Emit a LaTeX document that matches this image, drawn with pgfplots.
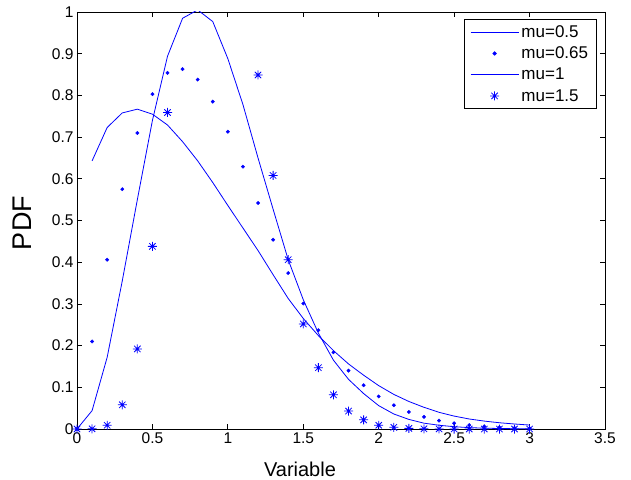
\documentclass[border=0pt]{standalone}
\usepackage{fontspec}
\setmainfont{Liberation Sans}
\usepackage{pgfplots}
\pgfplotsset{compat=1.18}
\pgfdeclareplotmark{mstar}{%
 \pgfpathmoveto{\pgfqpoint{-\pgfplotmarksize}{0pt}}\pgfpathlineto{\pgfqpoint{\pgfplotmarksize}{0pt}}%
 \pgfpathmoveto{\pgfqpoint{0pt}{-\pgfplotmarksize}}\pgfpathlineto{\pgfqpoint{0pt}{\pgfplotmarksize}}%
 \pgfpathmoveto{\pgfqpoint{-0.7071\pgfplotmarksize}{-0.7071\pgfplotmarksize}}\pgfpathlineto{\pgfqpoint{0.7071\pgfplotmarksize}{0.7071\pgfplotmarksize}}%
 \pgfpathmoveto{\pgfqpoint{-0.7071\pgfplotmarksize}{0.7071\pgfplotmarksize}}\pgfpathlineto{\pgfqpoint{0.7071\pgfplotmarksize}{-0.7071\pgfplotmarksize}}%
 \pgfusepathqstroke}
\definecolor{mblue}{RGB}{0,0,255}
\begin{document}
\begin{tikzpicture}
\path (-77pt,-48pt) rectangle (554pt,429pt);
\begin{axis}[
 scale only axis, width=528pt, height=417pt,
 at={(0pt,0pt)}, anchor=south west,
 xmin=0, xmax=3.5, ymin=0, ymax=1,
 xtick={0,0.5,1,1.5,2,2.5,3,3.5},
 ytick={0,0.1,0.2,0.3,0.4,0.5,0.6,0.7,0.8,0.9,1},
 tick align=inside, tick pos=both, major tick length=5pt,
 axis line style={line width=0.8pt},
 every tick/.style={black, line width=0.8pt},
 tick label style={font=\fontsize{15.5}{18}\selectfont},
 /pgf/number format/assume math mode=true,
 xlabel={Variable}, ylabel={PDF},
 xlabel style={font=\fontsize{20}{24}\selectfont, at={(axis description cs:0.4223,0)}, anchor=base, yshift=-47pt},
 ylabel style={font=\fontsize{27}{30}\selectfont, at={(axis description cs:-0.103,0.494)}, anchor=center},
 clip mode=individual,
 legend cell align=left,
 legend style={at={(1,1)}, anchor=north east, xshift=-8pt, yshift=-7pt, draw=black, line width=0.8pt,
   font=\fontsize{17}{19}\selectfont, row sep=4pt, inner xsep=6pt, inner ysep=4pt,
   nodes={inner xsep=2.5pt}},
 mylegend/.style={legend image code/.code={\draw[mark repeat=2,mark phase=2,##1,draw=mblue] plot coordinates {(0pt,0pt) (24pt,0pt) (48pt,0pt)};}},
]
\addplot[mblue, line width=0.8pt, mylegend] coordinates {
(0.1,0.643) (0.2,0.723) (0.3,0.758) (0.4,0.767) (0.5,0.755) (0.6,0.729) (0.7,0.689) (0.8,0.643) (0.9,0.591) (1.0,0.536)
(1.1,0.482) (1.2,0.428) (1.3,0.370) (1.4,0.313) (1.5,0.265) (1.6,0.224) (1.7,0.188) (1.8,0.156) (1.9,0.129) (2.0,0.104)
(2.1,0.083) (2.2,0.066) (2.3,0.052) (2.4,0.040) (2.5,0.031) (2.6,0.024) (2.7,0.019) (2.8,0.015) (2.9,0.012) (3.0,0.0095)};
\addlegendentry{mu=0.5}
\addplot[mblue, only marks, mark=*, mark size=1.7pt, mylegend] coordinates {
(0,0) (0.1,0.210) (0.2,0.406) (0.3,0.575) (0.4,0.710) (0.5,0.803) (0.6,0.854) (0.7,0.863) (0.8,0.838) (0.9,0.785) (1.0,0.713)
(1.1,0.629) (1.2,0.542) (1.3,0.454) (1.4,0.374) (1.5,0.301) (1.6,0.237) (1.7,0.184) (1.8,0.140) (1.9,0.105) (2.0,0.078)
(2.1,0.057) (2.2,0.041) (2.3,0.029) (2.4,0.020) (2.5,0.0137) (2.6,0.0095) (2.7,0.0064) (2.8,0.0043) (2.9,0.0028) (3.0,0.0018)};
\addlegendentry{mu=0.65}
\addplot[mblue, line width=0.8pt, mylegend] coordinates {
(0,0) (0.1,0.044) (0.2,0.172) (0.3,0.355) (0.4,0.550) (0.5,0.740) (0.6,0.894) (0.7,0.985) (0.8,1.005) (0.9,0.977) (1.0,0.888)
(1.1,0.778) (1.2,0.650) (1.3,0.527) (1.4,0.406) (1.5,0.310) (1.6,0.230) (1.7,0.165) (1.8,0.119) (1.9,0.085) (2.0,0.056)
(2.1,0.036) (2.2,0.023) (2.3,0.014) (2.4,0.009) (2.5,0.0055) (2.6,0.0033) (2.7,0.002) (2.8,0.0012) (2.9,0.0007) (3.0,0.0004)};
\addlegendentry{mu=1}
\addplot[mblue, only marks, mark=mstar, mark size=4.5pt, line width=0.8pt, restrict y to domain=0:1, mylegend] coordinates {
(0,0) (0.1,0.0005) (0.2,0.009) (0.3,0.058) (0.4,0.192) (0.5,0.438) (0.6,0.759) (0.7,1.04) (0.8,1.30) (0.9,1.40) (1.0,1.34)
(1.1,1.15) (1.2,0.849) (1.3,0.608) (1.4,0.406) (1.5,0.252) (1.6,0.147) (1.7,0.082) (1.8,0.043) (1.9,0.022) (2.0,0.009)
(2.1,0.004) (2.2,0.0015) (2.3,0.0005) (2.4,0.0002) (2.5,0) (2.6,0) (2.7,0) (2.8,0) (2.9,0) (3.0,0)};
\addlegendentry{mu=1.5}
\end{axis}
\end{tikzpicture}
\end{document}
